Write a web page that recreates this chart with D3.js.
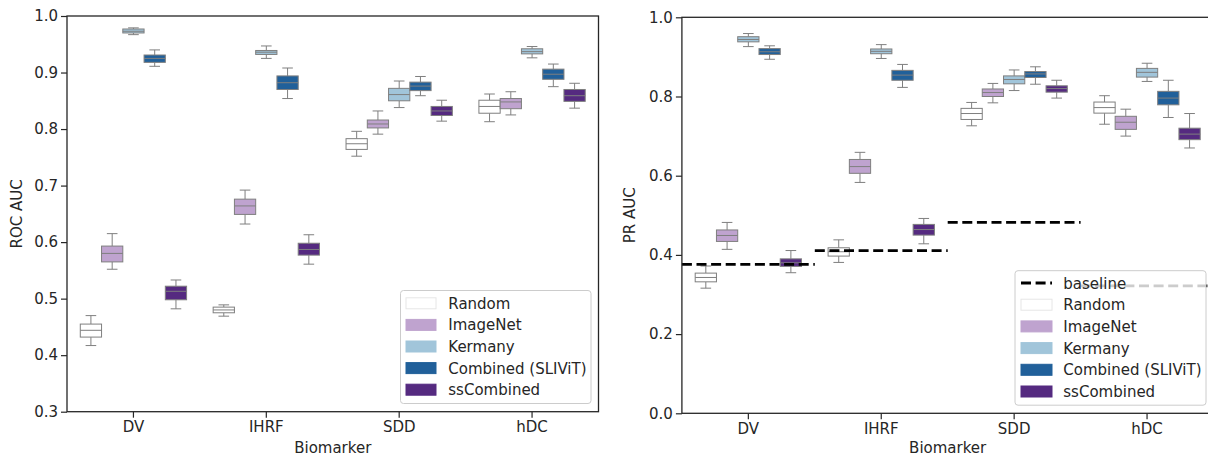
<!DOCTYPE html>
<html>
<head>
<meta charset="utf-8">
<script src="https://cdn.jsdelivr.net/npm/d3@7"></script>
<style>
  html, body { margin: 0; padding: 0; background: #fff; }
  svg { display: block; font-family: "DejaVu Sans", sans-serif; }
</style>
</head>
<body>
<svg id="chart" width="1208" height="459"></svg>
<script>
// Biomarkers on the x axis and the pretraining variants shown as hues
const biomarkers = ["DV", "IHRF", "SDD", "hDC"];
const methods = ["Random", "ImageNet", "Kermany", "Combined (SLIViT)", "ssCombined"];
const methodColors = ["#ffffff", "#bfa3cf", "#a1c5da", "#21609a", "#552a80"];

// Box statistics per biomarker: [lower whisker, Q1, median, Q3, upper whisker]
// ROC AUC
const rocRandom = [[0.417, 0.432, 0.444, 0.455, 0.470], [0.469, 0.475, 0.480, 0.485, 0.489], [0.752, 0.764, 0.774, 0.783, 0.796], [0.813, 0.828, 0.840, 0.851, 0.862]];
const rocImageNet = [[0.552, 0.565, 0.580, 0.593, 0.615], [0.632, 0.649, 0.664, 0.676, 0.692], [0.791, 0.802, 0.809, 0.816, 0.832], [0.825, 0.836, 0.848, 0.854, 0.866]];
const rocKermany = [[0.967, 0.970, 0.973, 0.977, 0.979], [0.925, 0.932, 0.936, 0.939, 0.947], [0.838, 0.850, 0.861, 0.872, 0.885], [0.926, 0.933, 0.937, 0.942, 0.946]];
const rocCombined = [[0.911, 0.918, 0.925, 0.931, 0.940], [0.854, 0.870, 0.882, 0.894, 0.908], [0.859, 0.868, 0.876, 0.883, 0.893], [0.875, 0.888, 0.897, 0.906, 0.915]];
const rocSsCombined = [[0.482, 0.498, 0.513, 0.522, 0.533], [0.561, 0.577, 0.587, 0.598, 0.613], [0.814, 0.824, 0.832, 0.840, 0.851], [0.837, 0.849, 0.859, 0.870, 0.881]];

// PR AUC
const prRandom = [[0.316, 0.332, 0.343, 0.354, 0.372], [0.381, 0.397, 0.408, 0.418, 0.438], [0.726, 0.742, 0.757, 0.770, 0.785], [0.730, 0.758, 0.772, 0.786, 0.802]];
const prImageNet = [[0.414, 0.434, 0.449, 0.463, 0.482], [0.583, 0.606, 0.623, 0.641, 0.659], [0.784, 0.800, 0.810, 0.819, 0.833], [0.700, 0.717, 0.735, 0.750, 0.768]];
const prKermany = [[0.926, 0.938, 0.944, 0.951, 0.959], [0.896, 0.908, 0.914, 0.920, 0.931], [0.815, 0.832, 0.843, 0.852, 0.867], [0.838, 0.849, 0.861, 0.871, 0.884]];
const prCombined = [[0.894, 0.906, 0.913, 0.921, 0.928], [0.823, 0.841, 0.854, 0.866, 0.881], [0.831, 0.848, 0.857, 0.863, 0.875], [0.747, 0.779, 0.796, 0.813, 0.841]];
const prSsCombined = [[0.355, 0.371, 0.380, 0.390, 0.411], [0.428, 0.450, 0.464, 0.477, 0.492], [0.796, 0.811, 0.820, 0.827, 0.841], [0.670, 0.691, 0.705, 0.720, 0.757]];

// Class-prevalence baseline for PR AUC, per biomarker
const prBaseline = [0.376, 0.411, 0.482, 0.322];

const rocTicks = [0.3, 0.4, 0.5, 0.6, 0.7, 0.8, 0.9, 1.0];
const prTicks = [0.0, 0.2, 0.4, 0.6, 0.8, 1.0];

const svg = d3.select("#chart");
const edgeColor = "#7f7f7f";
const spineColor = "#262626";
const fontSize = "15px";

function drawPanel(opts) {
  const { left, right, top, bottom, domain, ticks, series, yLabel, yLabelX, baseline, legend } = opts;
  const g = svg.append("g");

  const x = d3.scaleBand().domain(biomarkers).range([left, right]).padding(0);
  const y = d3.scaleLinear().domain(domain).range([bottom, top]);
  const hue = d3.scaleBand().domain(methods)
    .range([-0.4 * x.bandwidth(), 0.4 * x.bandwidth()]).padding(0);
  const bw = hue.bandwidth();

  // boxes
  methods.forEach((m, mi) => {
    series[mi].forEach((s, bi) => {
      const cx = x(biomarkers[bi]) + x.bandwidth() / 2 + hue(m) + bw / 2;
      const [lo, q1, med, q3, hi] = s;
      const bg = g.append("g");
      bg.append("line").attr("x1", cx).attr("x2", cx).attr("y1", y(hi)).attr("y2", y(q3))
        .attr("stroke", edgeColor).attr("stroke-width", 1);
      bg.append("line").attr("x1", cx).attr("x2", cx).attr("y1", y(q1)).attr("y2", y(lo))
        .attr("stroke", edgeColor).attr("stroke-width", 1);
      [hi, lo].forEach(v => {
        bg.append("line").attr("x1", cx - bw / 4).attr("x2", cx + bw / 4)
          .attr("y1", y(v)).attr("y2", y(v))
          .attr("stroke", edgeColor).attr("stroke-width", 1);
      });
      bg.append("rect").attr("x", cx - bw / 2).attr("width", bw)
        .attr("y", y(q3)).attr("height", y(q1) - y(q3))
        .attr("fill", methodColors[mi]).attr("stroke", edgeColor).attr("stroke-width", 1);
      bg.append("line").attr("x1", cx - bw / 2).attr("x2", cx + bw / 2)
        .attr("y1", y(med)).attr("y2", y(med))
        .attr("stroke", edgeColor).attr("stroke-width", 1);
    });
  });

  // baseline dashes per biomarker
  if (baseline) {
    baseline.forEach((v, bi) => {
      g.append("line")
        .attr("x1", x(biomarkers[bi])).attr("x2", x(biomarkers[bi]) + x.bandwidth())
        .attr("y1", y(v)).attr("y2", y(v))
        .attr("stroke", "#000").attr("stroke-width", 2.8)
        .attr("stroke-dasharray", "10,4.6");
    });
  }

  // axes
  const yAxis = d3.axisLeft(y).tickValues(ticks).tickFormat(d3.format(".1f")).tickSize(6).tickPadding(3);
  const ya = g.append("g").attr("transform", `translate(${left},0)`).call(yAxis);
  const xAxis = d3.axisBottom(x).tickSize(6).tickPadding(4);
  const xa = g.append("g").attr("transform", `translate(0,${bottom})`).call(xAxis);
  [ya, xa].forEach(a => {
    a.select(".domain").remove();
    a.selectAll(".tick line").attr("stroke", spineColor).attr("stroke-width", 1.2);
    a.selectAll(".tick text").attr("fill", "#262626").style("font-size", fontSize)
      .style("font-family", "'DejaVu Sans', sans-serif");
  });

  // frame
  g.append("rect").attr("x", left).attr("y", top)
    .attr("width", right - left).attr("height", bottom - top)
    .attr("fill", "none").attr("stroke", spineColor).attr("stroke-width", 1.3);

  // labels
  g.append("text").attr("x", (left + left + 4 * x.bandwidth()) / 2).attr("y", 453)
    .attr("text-anchor", "middle").attr("fill", "#262626").style("font-size", fontSize)
    .text("Biomarker");
  g.append("text")
    .attr("transform", `translate(${yLabelX},${(top + bottom) / 2}) rotate(-90)`)
    .attr("text-anchor", "middle").attr("fill", "#262626").style("font-size", fontSize)
    .text(yLabel);

  // legend
  const L = legend;
  g.append("rect").attr("x", L.x).attr("y", L.y).attr("width", L.w).attr("height", L.h)
    .attr("rx", 3).attr("fill", "#fff").attr("fill-opacity", 0.8)
    .attr("stroke", "#cccccc").attr("stroke-width", 1);
  const entries = [];
  if (baseline) entries.push({ label: "baseline", line: true });
  methods.forEach((m, i) => entries.push({ label: m, color: methodColors[i] }));
  entries.forEach((e, i) => {
    const cy = L.firstY + i * L.step;
    if (e.line) {
      g.append("line").attr("x1", L.px).attr("x2", L.px + L.pw).attr("y1", cy).attr("y2", cy)
        .attr("stroke", "#000").attr("stroke-width", 2.8).attr("stroke-dasharray", "10,4.6");
    } else {
      g.append("rect").attr("x", L.px).attr("y", cy - 5.5).attr("width", L.pw).attr("height", 11)
        .attr("fill", e.color).attr("stroke", e.color === "#ffffff" ? "#e6e6e6" : e.color)
        .attr("stroke-width", 1);
    }
    g.append("text").attr("x", L.tx).attr("y", cy + 5.5).attr("fill", "#262626")
      .style("font-size", fontSize).text(e.label);
  });
}

drawPanel({
  left: 67, right: 598.5, top: 16, bottom: 411.7,
  domain: [0.3, 1.0], ticks: rocTicks,
  series: [rocRandom, rocImageNet, rocKermany, rocCombined, rocSsCombined],
  yLabel: "ROC AUC", yLabelX: 22,
  baseline: null,
  legend: { x: 400.5, y: 290.5, w: 190.5, h: 113, firstY: 303.3, step: 21.6, px: 406, pw: 30, tx: 448.3 }
});

drawPanel({
  left: 681.9, right: 1213.5, top: 17.3, bottom: 413.3,
  domain: [0.0, 1.0], ticks: prTicks,
  series: [prRandom, prImageNet, prKermany, prCombined, prSsCombined],
  yLabel: "PR AUC", yLabelX: 635,
  baseline: prBaseline,
  legend: { x: 1015, y: 270.7, w: 191, h: 134.5, firstY: 283, step: 21.7, px: 1021, pw: 31, tx: 1063.3 }
});
</script>
</body>
</html>
